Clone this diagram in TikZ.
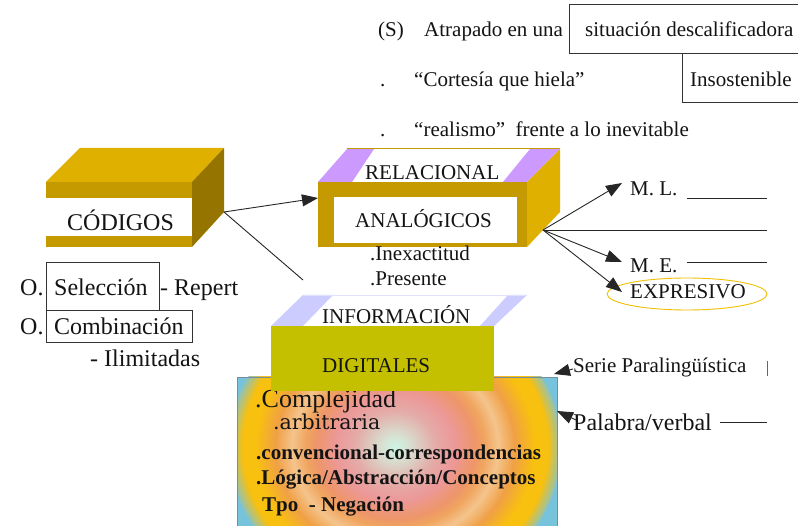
\documentclass[tikz,border=0pt]{standalone}
\usepackage{fontspec}
\setmainfont{Liberation Serif}
\newfontfamily\widefont{DejaVu Serif}
\usetikzlibrary{arrows.meta,shapes.geometric}
\newcommand\fsz[1]{\fontsize{#1}{#1}\selectfont}
\definecolor{goldtop}{RGB}{224,176,0}
\definecolor{goldfront}{RGB}{196,154,0}
\definecolor{golddark}{RGB}{149,117,0}
\definecolor{lav}{RGB}{204,153,255}
\definecolor{lavblue}{RGB}{204,204,255}
\definecolor{olive}{RGB}{196,192,0}
\definecolor{ringmint}{RGB}{205,245,228}
\definecolor{ringmint2}{RGB}{215,225,210}
\definecolor{ringpk}{RGB}{228,172,168}
\definecolor{ringpink}{RGB}{236,152,152}
\definecolor{ringsalmon}{RGB}{238,150,105}
\definecolor{ringor}{RGB}{240,165,95}
\definecolor{ringpeach}{RGB}{244,196,140}
\definecolor{ringor2}{RGB}{240,160,70}
\definecolor{ringyel}{RGB}{248,192,15}
\definecolor{ringteal}{RGB}{120,195,220}
\definecolor{ellcol}{RGB}{240,192,0}
\pgfdeclareradialshading{rings}{\pgfpoint{0bp}{0bp}}{%
color(0bp)=(ringmint); color(2bp)=(ringmint2); color(6bp)=(ringpk);
color(9bp)=(ringpink); color(12bp)=(ringsalmon); color(13.5bp)=(ringor);
color(15.5bp)=(ringpeach); color(18bp)=(ringor2); color(21bp)=(ringyel);
color(23bp)=(ringyel); color(25.5bp)=(ringteal); color(50bp)=(ringteal)}
\tikzset{
  txt/.style={anchor=base west, inner sep=0pt, text=black!92, font=\fsz{21}},
  big/.style={txt, font=\fsz{24}},
  boldt/.style={txt, font=\fsz{21}\bfseries},
  conn/.style={draw=black!85, line width=0.9pt},
  arr/.style={conn, -{Triangle[length=16pt,width=12pt]}},
  framebox/.style={draw=black!80, line width=0.8pt, inner sep=0pt, anchor=north west},
}
\begin{document}
\begin{tikzpicture}[x=1pt,y=-1pt]
\useasboundingbox (0,0) rectangle (798,526);
\fill[white] (0,0) rectangle (798,526);

% ---- top texts
\node[framebox, minimum width=240pt, minimum height=49pt] (sitbox) at (569,4) {};
\node[framebox, minimum width=130pt, minimum height=49pt] (insbox) at (682,53) {};
\node[txt] (s) at (378,37) {(S)};
\node[txt] (atr) at (424,37) {Atrapado en una};
\node[txt] (sit) at (585,37) {situación descalificadora};
\node[txt] (dot1) at (380,87) {.};
\node[txt] (cort) at (414,87) {“Cortesía que hiela”};
\node[txt] (ins) at (690,87) {Insostenible};
\node[txt] (dot2) at (380,137) {.};
\node[txt] (real) at (414,137) {“realismo”\ \ frente a lo inevitable};

% ---- CODIGOS box
\fill[goldtop] (46,182) -- (80,148) -- (224,148) -- (192,182) -- cycle;
\fill[golddark] (192,182) -- (224,148) -- (224,212) -- (192,247) -- cycle;
\fill[goldfront] (46,182) rectangle (192,247);
\fill[white] (46,198) rectangle (192,236);
\node[big] (cod) at (67,231) {CÓDIGOS};
\coordinate (codR) at (224,212);

% ---- ANALOGICOS box
\fill[white] (318,182) -- (347,149) -- (560,149) -- (527,182) -- cycle;
\fill[lav] (318,182) -- (352,182) -- (374,149) -- (347,149) -- cycle;
\fill[lav] (503,182) -- (527,182) -- (560,149) -- (530,149) -- cycle;
\draw[goldfront, line width=1pt] (347,149) -- (560,149);
\fill[goldtop] (527,182) -- (560,149) -- (560,212) -- (527,247) -- cycle;
\fill[goldfront] (318,182) rectangle (527,247);
\fill[white] (334,197) rectangle (517,243);
\node[txt] (rel) at (365,180) {RELACIONAL};
\node[txt] (ana) at (355,228) {ANALÓGICOS};
\coordinate (anaL) at (318,198);
\coordinate (anaR) at (543,230);
\node[txt] (inex) at (370,261) {.Inexactitud};
\node[txt] (pres) at (370,286) {.Presente};

% ---- left list
\node[framebox, minimum width=113pt, minimum height=48pt] (selbox) at (46,262) {};
\node[framebox, minimum width=146pt, minimum height=32pt] (combox) at (46,310) {};
\node[big] (o1) at (20,296) {O.};
\node[big] (sel) at (54,296) {Selección};
\node[big] (rep) at (160,296) {- Repert};
\node[big] (o2) at (20,335) {O.};
\node[big] (com) at (54,335) {Combinación};
\node[big] (ili) at (90,367) {- Ilimitadas};

% ---- gradient box
\fill[ringteal] (237,377) rectangle (557,540);
\begin{scope}
  \clip (237,377) rectangle (557,540);
  \shade[shading=rings] (395,447) ellipse [x radius=166pt, y radius=150pt];
\end{scope}
\draw[draw={rgb,255:red,120;green,140;blue,160}, line width=0.8pt] (237,540) -- (237,377) -- (557,377) -- (557,540);
\node[txt, font=\fsz{26}] (comp) at (255,408) {.Complejidad};
\node[txt, font=\widefont\fsz{20.5}] (arb) at (273,430) {.arbitraria};
\node[boldt] (conv) at (256,460) {.convencional-correspondencias};
\node[boldt] (log) at (256,484) {.Lógica/Abstracción/Conceptos};
\node[boldt] (tpo) at (262,511) {Tpo\ \ - Negación};

% ---- INFORMACION / DIGITALES
\fill[white] (271,326) -- (303,295) -- (527,295) -- (494,326) -- cycle;
\fill[lavblue] (271,326) -- (303,326) -- (333,295) -- (303,295) -- cycle;
\fill[lavblue] (480,326) -- (494,326) -- (527,295) -- (508,295) -- cycle;
\draw[lavblue!60, line width=0.8pt] (303,295) -- (527,295);
\fill[olive] (271,326) rectangle (494,391);
\node[txt] (inf) at (322,324) {INFORMACIÓN};
\node[txt] (dig) at (322,373) {DIGITALES};
\coordinate (infTop) at (303,280);

% ---- right side
\node[txt] (ml) at (630,196) {M. L.};
\node[txt] (me) at (630,273) {M. E.};
\node[txt] (exp) at (630,299) {EXPRESIVO};
\node[draw=ellcol, line width=0.9pt, ellipse, minimum width=160pt, minimum height=32pt, inner sep=0pt] (ell) at (687,294) {};
\coordinate (mlT) at (622,183);
\coordinate (meT) at (622,262);
\coordinate (exT) at (622,292);
\coordinate (hE) at (767,230);
\coordinate (mlA) at (687,198);
\coordinate (mlB) at (767,198);
\coordinate (meA) at (687,262);
\coordinate (meB) at (767,262);
\draw[conn] (mlA) -- (mlB);
\draw[conn] (meA) -- (meB);

\node[txt, font=\fsz{21}] (serie) at (573,373) {Serie Paralingüística};
\node[big] (pal) at (573,431) {Palabra/verbal};
\coordinate (barA) at (767,361);
\coordinate (barB) at (767,376);
\draw[draw=black!60, line width=0.8pt] (barA) -- (barB);
\coordinate (palA) at (720,422);
\coordinate (palB) at (767,422);
\draw[conn] (palA) -- (palB);
\coordinate (serS) at (573,369);
\coordinate (serT) at (554,374);
\coordinate (palS) at (576,420);
\coordinate (palT) at (557,411);

% ---- connectors
\draw[arr] (codR) -- (anaL);
\draw[conn] (codR) -- (infTop);
\draw[arr] (anaR) -- (mlT);
\draw[conn] (anaR) -- (hE);
\draw[arr] (anaR) -- (meT);
\draw[arr] (anaR) -- (exT);
\draw[arr] (serS) -- (serT);
\draw[arr] (palS) -- (palT);
\end{tikzpicture}
\end{document}
